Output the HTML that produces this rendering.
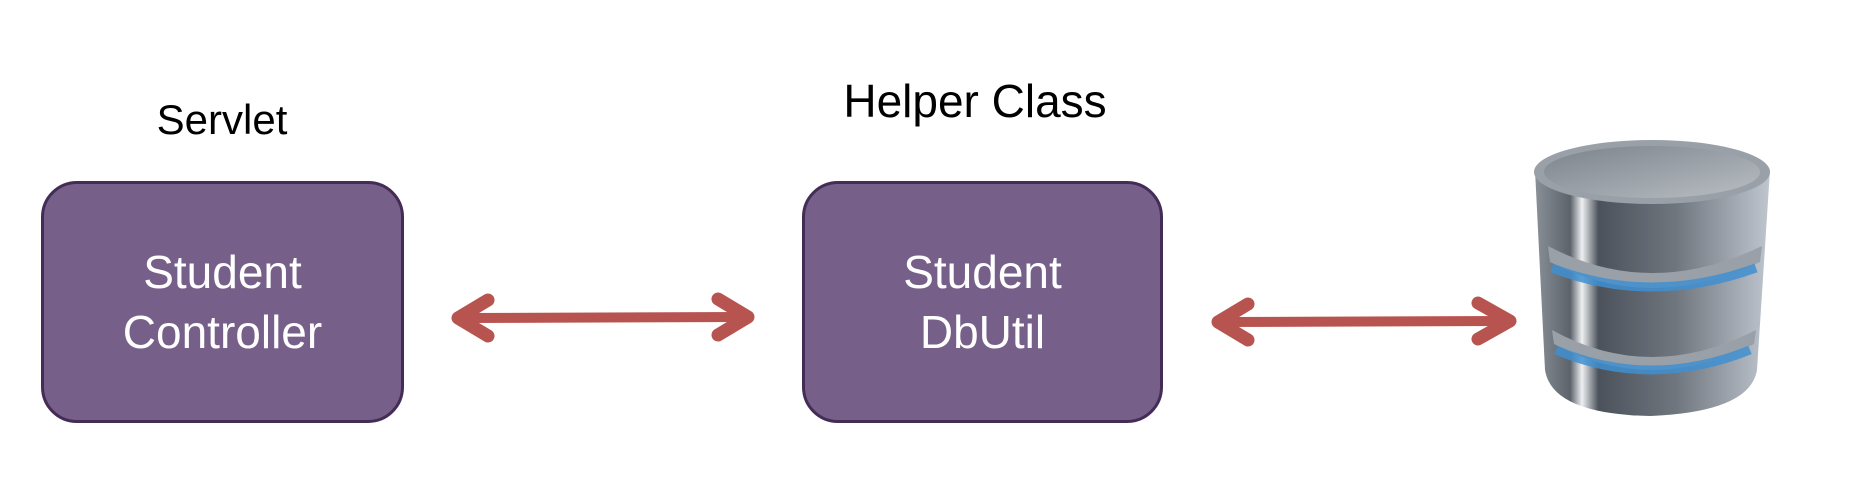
<!DOCTYPE html>
<html><head><style>
html,body{margin:0;padding:0;background:#fff;}
body{width:1860px;height:480px;position:relative;overflow:hidden;font-family:"Liberation Sans",Arial,sans-serif;}
.lbl{position:absolute;color:#000;white-space:nowrap;transform:translateX(-50%);}
.box{position:absolute;background:#76608a;border:3px solid #432d57;border-radius:36px;box-sizing:border-box;color:#fff;font-size:46px;display:flex;align-items:center;justify-content:center;text-align:center;line-height:60px;}
svg{position:absolute;left:0;top:0;}
</style></head><body>
<div class="lbl" style="left:222px;top:96px;font-size:42px;">Servlet</div>
<div class="lbl" style="left:975px;top:74px;font-size:46px;">Helper Class</div>
<div class="box" style="left:41px;top:181px;width:363px;height:242px;">Student<br>Controller</div>
<div class="box" style="left:802px;top:181px;width:361px;height:242px;">Student<br>DbUtil</div>
<svg width="1860" height="480">
<defs>
<linearGradient id="g" x1="0" x2="1">
<stop offset="0" stop-color="#8a9098"/><stop offset="0.15" stop-color="#5d636b"/><stop offset="0.2" stop-color="#eef0f2"/><stop offset="0.27" stop-color="#4b525b"/><stop offset="0.6" stop-color="#6f767e"/><stop offset="1" stop-color="#bfc6cf"/>
</linearGradient>
<linearGradient id="t" x1="0" x2="1" y1="0" y2="1"><stop offset="0" stop-color="#7c838b"/><stop offset="1" stop-color="#b9bec4"/></linearGradient>
</defs>
<g fill="none" stroke="#b85450" stroke-width="10" stroke-linecap="round" stroke-linejoin="round">
<path d="M462 318 L742 317"/>
<path d="M488 300 L458 318 L488 336" stroke-width="13"/>
<path d="M718 299 L748 317 L718 335" stroke-width="13"/>
<path d="M1222 322 L1504 321"/>
<path d="M1248 304 L1218 322 L1248 340" stroke-width="13"/>
<path d="M1478 303 L1510 321 L1478 339" stroke-width="13"/>
</g>
<path d="M1535 170 L1545 370 Q1552 414 1650 416 Q1750 412 1757 370 L1770 170 Z" fill="url(#g)"/>
<path d="M1548 246 Q1650 300 1762 246 L1760 262 Q1650 314 1550 262 Z" fill="#9aa0a7"/>
<path d="M1552 268 Q1650 306 1756 268" stroke="#3f8fd0" stroke-width="9" fill="none" opacity="0.85"/>
<path d="M1552 330 Q1650 384 1756 330 L1754 344 Q1650 396 1554 344 Z" fill="#9aa0a7"/>
<path d="M1556 350 Q1650 390 1750 350" stroke="#3f8fd0" stroke-width="9" fill="none" opacity="0.85"/>
<ellipse cx="1652" cy="172" rx="118" ry="32" fill="#9aa0a7"/>
<ellipse cx="1652" cy="172" rx="108" ry="26" fill="url(#t)"/>
</svg>
</body></html>
